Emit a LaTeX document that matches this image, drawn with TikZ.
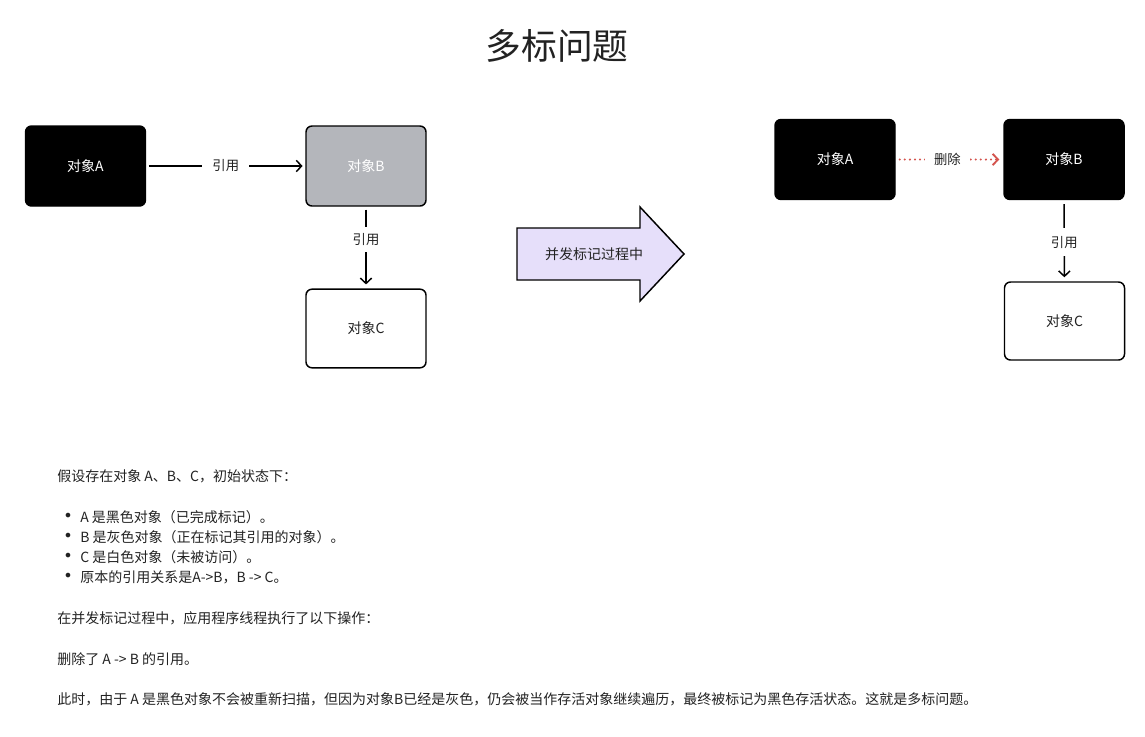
\documentclass[tikz,border=0pt]{standalone}
\usepackage{fontspec}
\setmainfont{Noto Sans CJK SC}
\newfontfamily\dvfont{DejaVu Sans}
\usetikzlibrary{arrows.meta}
\definecolor{grayB}{RGB}{180,182,187}
\definecolor{lav}{RGB}{230,223,250}
\definecolor{delred}{RGB}{212,84,78}
\definecolor{txt}{RGB}{34,34,34}
\tikzset{
  box/.style={rectangle,rounded corners=4.5pt,minimum width=90pt,minimum height=60pt,line width=1.1pt,inner sep=0pt,font=\fontsize{10.5pt}{12pt}\selectfont},
  blackbox/.style={box,draw=black,fill=black,text=white},
  graybox/.style={box,draw=black,fill=grayB,text=white},
  whitebox/.style={box,draw=black,fill=white,text=txt},
  ref/.style={line width=1.1pt,-{Straight Barb[length=4pt,width=8.5pt,line width=1.1pt]}},
  del/.style={line width=1.7pt,delred,dash pattern=on 0pt off 3.8pt,line cap=round,-{Straight Barb[length=4pt,width=8.5pt,line width=1.4pt]}},
  lbl/.style={fill=white,text=txt,inner xsep=6.5pt,inner ysep=2pt,font=\fontsize{10pt}{12pt}\selectfont},
  body/.style={anchor=west,inner sep=0pt,text=txt,font=\fontsize{10.5pt}{12pt}\selectfont},
  bul/.style={anchor=center,inner sep=0pt,text=txt,font=\dvfont\fontsize{12pt}{12pt}\selectfont},
}
\begin{document}
\begin{tikzpicture}[x=0.75pt,y=-0.75pt]
\useasboundingbox (0,0) rectangle (1145,736);
% title
\node[text=txt,font=\fontsize{26.8pt}{30pt}\selectfont] (title) at (557,46) {多标问题};
% left diagram
\node[blackbox] (A) at (85.5,166) {对象A};
\node[graybox] (B) at (366,166) {对象B};
\node[whitebox,minimum height=59pt] (C) at (366,328.5) {对象C};
\draw[ref,shorten <=2pt,shorten >=2pt] (A) -- node[lbl,inner xsep=7.5pt]{引用} (B);
\draw[ref,shorten <=2.2pt,shorten >=3pt] (B) -- node[lbl,pos=0.4,inner xsep=4pt,inner ysep=5pt]{引用} (C);
% big arrow
\draw[line width=1.1pt,fill=lav,line join=miter] (517,228) -- (640,228) -- (640,207) -- (684,254) -- (640,301) -- (640,280) -- (517,280) -- cycle;
\node[text=txt,font=\fontsize{10.5pt}{12pt}\selectfont] (mid) at (594,254) {并发标记过程中};
% right diagram
\node[blackbox] (A2) at (835,159.5) {对象A};
\node[blackbox] (B2) at (1064,159.5) {对象B};
\node[whitebox,minimum height=58.5pt] (C2) at (1064.5,321) {对象C};
\draw[del,shorten <=3pt,shorten >=3pt] (A2) -- node[lbl,pos=0.48,inner xsep=7pt]{删除} (B2);
\draw[ref,shorten <=3pt,shorten >=3pt] (B2) -- node[lbl,pos=0.52,inner xsep=4pt,inner ysep=6pt]{引用} (C2);
% text
\node[body] (t1) at (57,476) {假设存在对象 A、B、C，初始状态下：};
\node[bul] (d1) at (68,517) {•};
\node[body] (b1) at (80,517) {A 是黑色对象（已完成标记）。};
\node[bul] (d2) at (68,537) {•};
\node[body] (b2) at (80,537) {B 是灰色对象（正在标记其引用的对象）。};
\node[bul] (d3) at (68,557) {•};
\node[body] (b3) at (80,557) {C 是白色对象（未被访问）。};
\node[bul] (d4) at (68,577) {•};
\node[body] (b4) at (80,577) {原本的引用关系是A->B，B -> C。};
\node[body] (t2) at (57,618) {在并发标记过程中，应用程序线程执行了以下操作：};
\node[body] (t3) at (57,659) {删除了 A -> B 的引用。};
\node[body] (t4) at (57,699) {此时，由于 A 是黑色对象不会被重新扫描，但因为对象B已经是灰色，仍会被当作存活对象继续遍历，最终被标记为黑色存活状态。这就是多标问题。};
\end{tikzpicture}
\end{document}
